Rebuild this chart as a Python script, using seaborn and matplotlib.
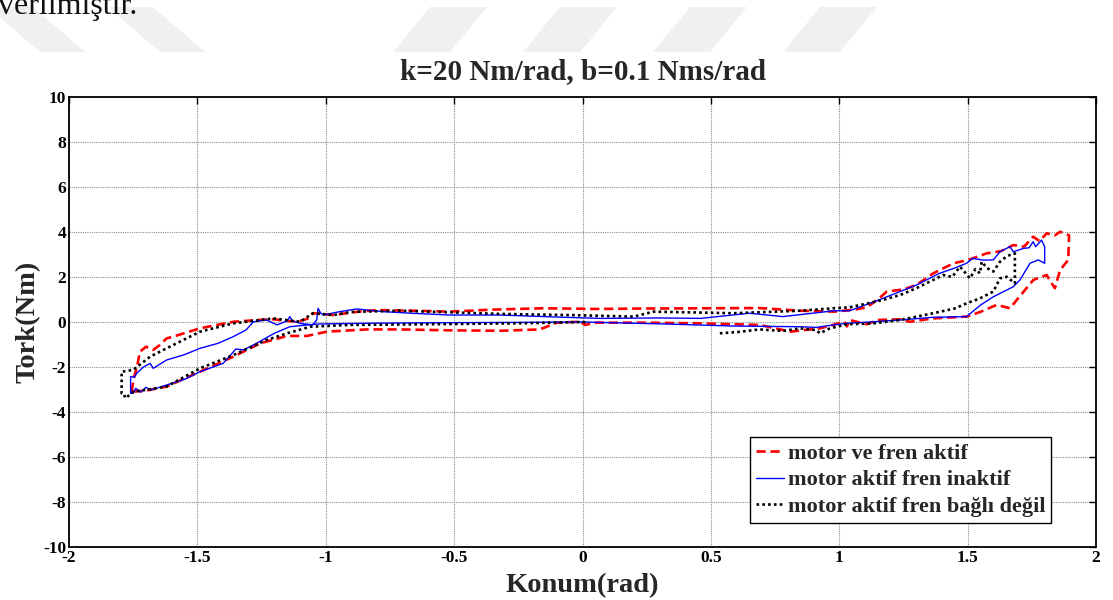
import numpy as np
import pandas as pd
import seaborn as sns
import matplotlib.pyplot as plt
from matplotlib.patches import Polygon

# --- series: position (rad) vs torque (Nm) ---
red_x = [-1.756, -1.748, -1.735, -1.724, -1.70, -1.672, -1.646, -1.62, -1.594, -1.49, -1.36, -1.25,
         -1.204, -1.15, -1.11, -1.07, -1.05, -0.97, -0.88, -0.80, -0.65, -0.52, -0.35, -0.154,
         0.05, 0.25, 0.46, 0.69, 0.85, 0.98, 1.0, 1.06, 1.107, 1.15, 1.185, 1.25, 1.30, 1.366,
         1.445, 1.50, 1.574, 1.63, 1.678, 1.72, 1.755, 1.78, 1.808, 1.84, 1.86, 1.886, 1.895,
         1.892, 1.86, 1.84, 1.82, 1.808, 1.756, 1.70, 1.665, 1.613, 1.55, 1.496, 1.366, 1.275,
         1.237, 1.15, 1.107, 1.04, 1.03, 1.02, 0.97, 0.925, 0.81, 0.69, 0.46, 0.25, 0.05, 0.01,
         -0.01, -0.10, -0.166, -0.32, -0.52, -0.71, -0.84, -0.996, -1.074, -1.15, -1.256, -1.36,
         -1.49, -1.62, -1.70, -1.756]
red_y = [-3.10, -2.50, -1.99, -1.32, -1.10, -1.24, -1.02, -0.73, -0.65, -0.28, 0.01, 0.10,
         0.12, 0.05, 0.01, 0.15, 0.39, 0.31, 0.45, 0.53, 0.50, 0.46, 0.55, 0.61,
         0.58, 0.60, 0.61, 0.62, 0.50, 0.46, 0.48, 0.55, 0.65, 1.00, 1.35, 1.45, 1.64, 2.16,
         2.61, 2.75, 3.05, 3.15, 3.42, 3.35, 3.79, 3.60, 3.94, 3.85, 4.01, 3.90, 3.85,
         2.76, 2.31, 1.50, 1.85, 2.09, 1.87, 1.10, 0.61, 0.76, 0.45, 0.24, 0.16, 0.01,
         0.12, 0.09, -0.10, 0.09, -0.20, 0.02, -0.15, -0.28, -0.43, -0.13, -0.06, -0.03, -0.03, -0.13,
         0.01, -0.03, -0.33, -0.39, -0.37, -0.33, -0.33, -0.43, -0.62, -0.62, -0.95, -1.54,
         -2.21, -2.87, -3.05, -3.10]

blue_x = [-1.76, -1.76, -1.745, -1.736, -1.71, -1.684, -1.672, -1.62, -1.55, -1.49, -1.42, -1.36,
          -1.31, -1.282, -1.23, -1.19, -1.15, -1.14, -1.13, -1.10, -1.05, -1.035, -1.03, -1.02,
          -1.01, -0.95, -0.88, -0.776, -0.65, -0.516, -0.32, -0.10, 0.07, 0.30, 0.46, 0.65, 0.78,
          0.98, 1.04, 1.10, 1.17, 1.30, 1.39, 1.45, 1.496, 1.52, 1.56, 1.60, 1.626, 1.665, 1.678,
          1.717, 1.74, 1.755, 1.765, 1.788, 1.80, 1.80,
          1.775, 1.743, 1.704, 1.678, 1.60, 1.55, 1.496, 1.366, 1.237, 1.133, 1.03, 0.977, 0.91,
          0.847, 0.59, 0.33, 0.0, -0.30, -0.516, -0.80, -1.035, -1.14, -1.20, -1.27, -1.32, -1.35,
          -1.40, -1.49, -1.55, -1.62, -1.66, -1.684, -1.70, -1.72, -1.74, -1.75, -1.76]
blue_y = [-3.17, -2.43, -2.45, -2.28, -2.00, -1.84, -2.06, -1.69, -1.45, -1.17, -0.95, -0.65,
          -0.35, 0.01, 0.09, -0.13, 0.05, 0.24, 0.05, -0.06, -0.13, 0.10, 0.61, 0.40,
          0.31, 0.45, 0.58, 0.46, 0.38, 0.31, 0.31, 0.22, 0.16, 0.18, 0.16, 0.39, 0.24,
          0.50, 0.50, 0.75, 1.05, 1.64, 2.16, 2.40, 2.61, 2.83, 2.75, 2.76, 3.12, 3.35, 3.12,
          3.27, 3.30, 3.57, 3.35, 3.64, 3.35, 2.61,
          2.76, 2.61, 1.87, 1.57, 1.12, 0.75, 0.24, 0.21, 0.09, 0.01, -0.06, -0.13, -0.24,
          -0.21, -0.18, -0.09, 0.00, -0.02, -0.03, -0.05, -0.09, -0.21, -0.50, -0.95, -1.24, -1.20,
          -1.84, -2.21, -2.55, -2.80, -2.95, -3.02, -2.90, -3.12, -2.95, -3.17, -3.17]

black_x = [0.535, 0.60, 0.69, 0.78, 0.847, 0.91, 0.925, 0.96, 0.99, 1.03, 1.133, 1.237, 1.366,
           1.45, 1.496, 1.548, 1.60, 1.626, 1.652, 1.684, 1.684,
           1.665, 1.65, 1.626, 1.613, 1.60, 1.575, 1.555, 1.548, 1.53, 1.509, 1.49, 1.47, 1.44,
           1.405, 1.366, 1.30, 1.237, 1.17, 1.04, 0.976, 0.847, 0.587, 0.276, 0.20, -0.06, -0.32,
           -0.71, -0.90, -0.97, -1.05, -1.10, -1.204, -1.36, -1.49, -1.62, -1.684, -1.75, -1.795,
           -1.795, -1.788, -1.78, -1.75, -1.62, -1.49, -1.36, -1.23, -1.15, -1.06, -0.906, -0.516,
           -0.20, 0.0, 0.02]
black_y = [-0.50, -0.45, -0.33, -0.40, -0.28, -0.36, -0.50, -0.30, -0.21, -0.10, -0.06, 0.09, 0.39,
           0.60, 0.83, 1.05, 1.35, 1.94, 2.01, 1.72, 3.05,
           2.98, 2.90, 2.68, 2.46, 2.24, 2.40, 2.68, 2.16, 2.35, 1.94, 2.20, 2.46, 2.00,
           2.09, 1.87, 1.50, 1.20, 0.98, 0.65, 0.61, 0.50, 0.39, 0.46, 0.24, 0.31, 0.36,
           0.50, 0.45, 0.31, 0.39, 0.01, 0.16, -0.06, -0.43, -1.17, -1.54, -2.13, -2.21,
           -3.17, -3.17, -3.39, -3.10, -2.87, -2.06, -1.47, -0.80, -0.50, -0.21, -0.13, -0.09,
           -0.05, 0.00, -0.02]

labels = ["motor ve fren aktif", "motor aktif fren inaktif", "motor aktif fren bağlı değil"]
x_ticks = [-2, -1.5, -1, -0.5, 0, 0.5, 1, 1.5, 2]
x_tick_labels = ["-2", "-1.5", "-1", "-0.5", "0", "0.5", "1", "1.5", "2"]
y_ticks = [-10, -8, -6, -4, -2, 0, 2, 4, 6, 8, 10]
y_tick_labels = ["-10", "-8", "-6", "-4", "-2", "0", "2", "4", "6", "8", "10"]

sns.set_theme(style="white")
plt.rcParams["font.family"] = ["Liberation Serif", "DejaVu Serif"]
plt.rcParams["font.weight"] = "bold"
plt.rcParams["axes.unicode_minus"] = False

fig = plt.figure(figsize=(11.13, 6.0), dpi=100)
fig.patch.set_facecolor("white")

# faint page decoration strip behind the figure
W, H = 1113.0, 600.0
def px(pts):
    return [(x / W, 1 - y / H) for x, y in pts]

band_color = "#f0f0f0"
for x0 in (-12, 108):
    fig.patches.append(Polygon(px([(x0, 7), (x0 + 45, 7), (x0 + 97, 52), (x0 + 52, 52)]),
                               closed=True, transform=fig.transFigure, facecolor=band_color,
                               edgecolor="none", zorder=0))
for xb in (393, 523, 653, 783):
    fig.patches.append(Polygon(px([(xb, 52), (xb + 57, 52), (xb + 94, 7), (xb + 37, 7)]),
                               closed=True, transform=fig.transFigure, facecolor=band_color,
                               edgecolor="none", zorder=0))
fig.text(-0.002, 1 - 14 / H, "verilmiştir.", fontsize=23, fontweight="normal",
         color="#111111", ha="left", va="baseline")

ax = fig.add_axes([69 / W, 1 - 547 / H, (1096 - 69) / W, (547 - 97) / H])

red_df = pd.DataFrame({"Konum": red_x, "Tork": red_y})
blue_df = pd.DataFrame({"Konum": blue_x, "Tork": blue_y})
black_df = pd.DataFrame({"Konum": black_x, "Tork": black_y})

sns.lineplot(data=red_df, x="Konum", y="Tork", sort=False, estimator=None, ax=ax,
             color="#ff0000", linewidth=1.9, linestyle=(0, (3.5, 1.8)), label=labels[0])
sns.lineplot(data=blue_df, x="Konum", y="Tork", sort=False, estimator=None, ax=ax,
             color="#0000ff", linewidth=1.0, linestyle="-", label=labels[1])
sns.lineplot(data=black_df, x="Konum", y="Tork", sort=False, estimator=None, ax=ax,
             color="#000000", linewidth=1.9, linestyle=(0, (1, 1.2)), label=labels[2])

ax.set_xlim(-2, 2)
ax.set_ylim(-10, 10)
ax.set_xticks(x_ticks)
ax.set_xticklabels(x_tick_labels)
ax.set_yticks(y_ticks)
ax.set_yticklabels(y_tick_labels)
ax.grid(True, color="#8c8c8c", linestyle=(0, (1, 1)), linewidth=0.8)
ax.tick_params(axis="both", direction="in", length=5, width=1, colors="black",
               top=True, right=True, labelsize=12.5, pad=2)
for lbl in ax.get_xticklabels() + ax.get_yticklabels():
    lbl.set_fontweight("bold")
for sp in ax.spines.values():
    sp.set_color("black")
    sp.set_linewidth(1.3)

ax.set_title("k=20 Nm/rad, b=0.1 Nms/rad", fontsize=21, fontweight="bold", pad=13)
ax.set_xlabel("Konum(rad)", fontsize=20.5, fontweight="bold", labelpad=5)
ax.set_ylabel("Tork(Nm)", fontsize=20.5, fontweight="bold", labelpad=2)

leg = ax.legend(loc="lower right", bbox_to_anchor=(0.956, 0.054), fontsize=16,
                handlelength=1.3, handletextpad=0.15, borderpad=0.25, labelspacing=0.28,
                frameon=True, fancybox=False, framealpha=1, edgecolor="black",
                borderaxespad=0)
leg.get_frame().set_linewidth(1.0)
for t in leg.get_texts():
    t.set_fontweight("bold")

fig.savefig("out.png", dpi=100)
